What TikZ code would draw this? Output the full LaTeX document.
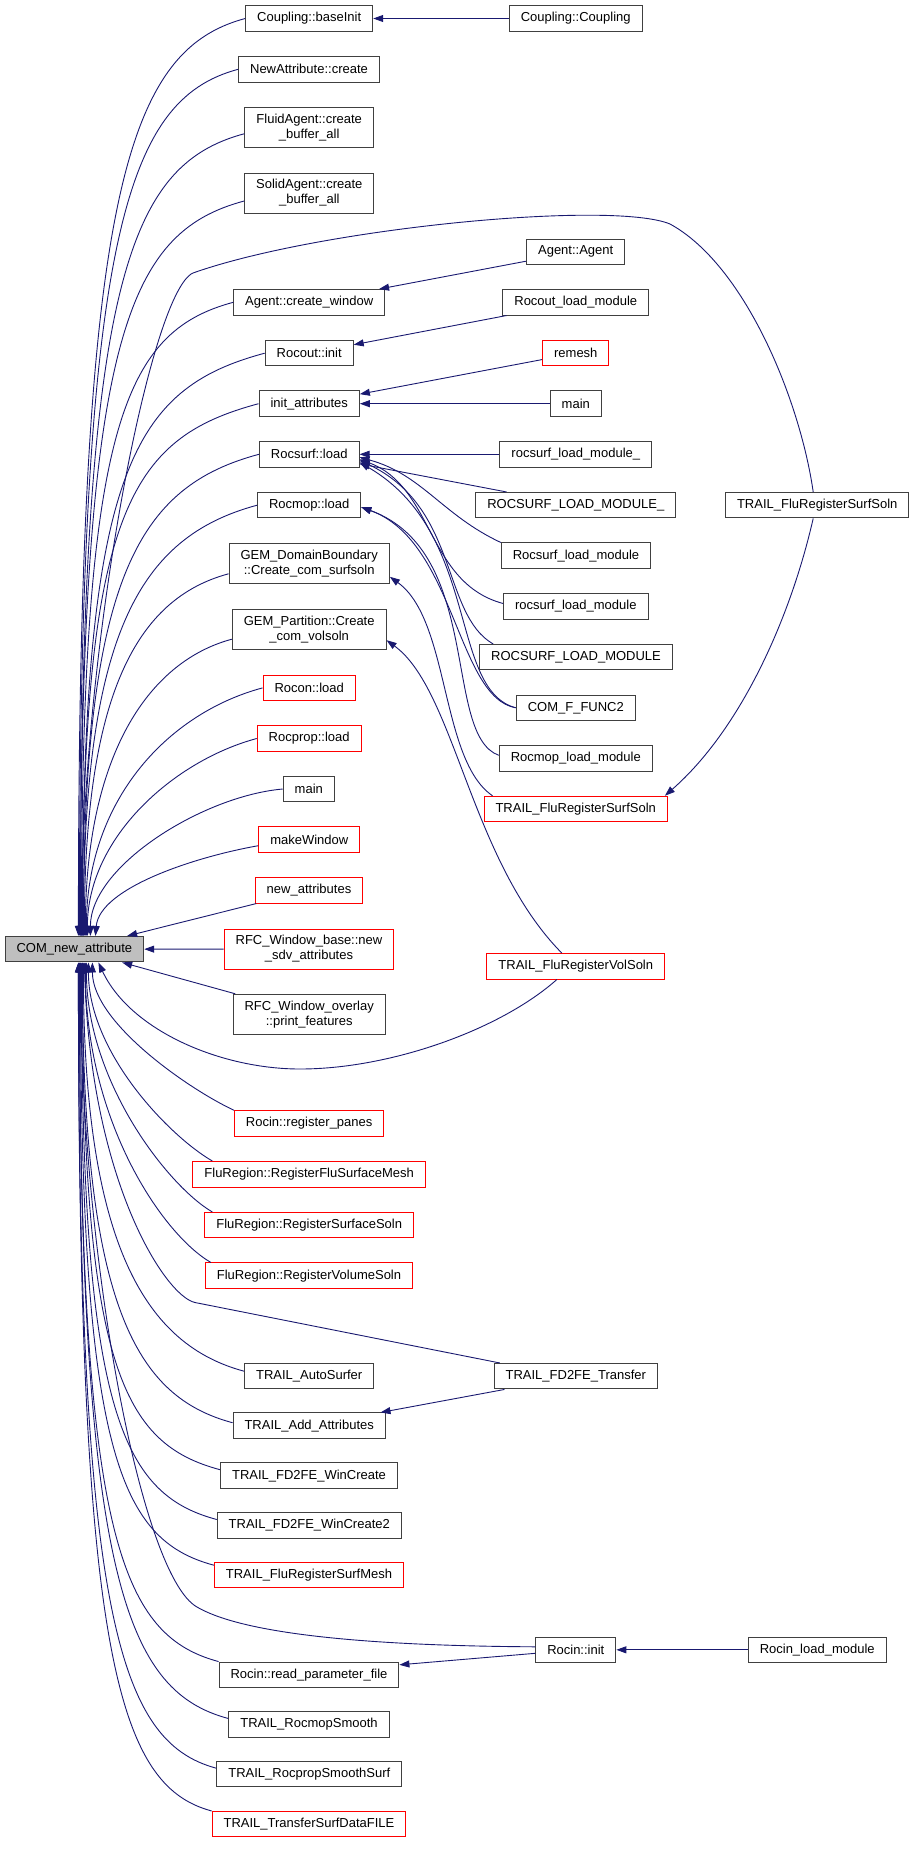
\documentclass[tikz,border=0pt]{standalone}
\usepackage{fontspec}
\setmainfont{Liberation Sans}
\usetikzlibrary{arrows.meta}
\definecolor{dxblue}{RGB}{25,25,112}
\definecolor{dxgray}{RGB}{64,64,64}
\definecolor{dxred}{RGB}{255,0,0}
\definecolor{dxfill}{RGB}{191,191,191}

\begin{document}
\begin{tikzpicture}[
  x=1pt, y=1pt,
  font=\fontsize{13}{15}\selectfont, >={Triangle[length=10pt, width=7pt]},
  fn/.style     ={rectangle, draw=dxgray, line width=1pt, fill=white, inner xsep=11.5pt, inner ysep=2pt, minimum height=25.5pt, align=center},
  fnred/.style  ={fn, draw=dxred},
  focus/.style  ={fn, fill=dxfill},
  twoline/.style={minimum height=40pt},
  edge/.style   ={->, dxblue, line width=0.9pt},
]
\useasboundingbox (0,0) rectangle (915,-1852);

% ---- the function itself
\node[focus] (com) at (74.4,-949.2) {COM\_new\_attribute};

% ---- direct callers, first column
\node[fn]           (baseinit)      at (309.2,-18.5)   {Coupling::baseInit};
\node[fn]           (newattr)       at (309,-69.3)     {NewAttribute::create};
\node[fn, twoline]  (fluidagent)    at (309.2,-127.7)  {FluidAgent::create\\\_buffer\_all};
\node[fn, twoline]  (solidagent)    at (309.3,-193)    {SolidAgent::create\\\_buffer\_all};
\node[fn]           (agentcw)       at (309.2,-302.3)  {Agent::create\_window};
\node[fn]           (rocoutinit)    at (309.2,-353.2)  {Rocout::init};
\node[fn]           (initattr)      at (309.2,-403.7)  {init\_attributes};
\node[fn]           (rocsurfload)   at (309.2,-454.3)  {Rocsurf::load};
\node[fn]           (rocmopload)    at (309.2,-505.2)  {Rocmop::load};
\node[fn, twoline]  (gemdb)         at (309.2,-563.8)  {GEM\_DomainBoundary\\::Create\_com\_surfsoln};
\node[fn, twoline]  (gempart)       at (309.2,-629.2)  {GEM\_Partition::Create\\\_com\_volsoln};
\node[fnred]        (roconload)     at (309.2,-687.9)  {Rocon::load};
\node[fnred]        (rocpropload)   at (309.2,-738.5)  {Rocprop::load};
\node[fn]           (mainone)       at (308.8,-789)    {main};
\node[fnred]        (makewin)       at (309.3,-839.7)  {makeWindow};
\node[fnred]        (newattrs)      at (309,-890.3)    {new\_attributes};
\node[fnred, twoline] (rfcbase)     at (309,-949)      {RFC\_Window\_base::new\\\_sdv\_attributes};
\node[fn, twoline]  (rfcoverlay)    at (309.2,-1014.3) {RFC\_Window\_overlay\\::print\_features};
\node[fnred]        (registerpanes) at (309.2,-1123.5) {Rocin::register\_panes};
\node[fnred]        (flusurfmesh)   at (309.2,-1174.3) {FluRegion::RegisterFluSurfaceMesh};
\node[fnred]        (flusurfsoln)   at (309.2,-1225.2) {FluRegion::RegisterSurfaceSoln};
\node[fnred]        (fluvolsoln)    at (309,-1275.7)   {FluRegion::RegisterVolumeSoln};
\node[fn]           (autosurfer)    at (309.2,-1376.2) {TRAIL\_AutoSurfer};
\node[fn]           (addattr)       at (309.2,-1425.7) {TRAIL\_Add\_Attributes};
\node[fn]           (wincreate)     at (309,-1475.7)   {TRAIL\_FD2FE\_WinCreate};
\node[fn]           (wincreatetwo)  at (309.3,-1525.5) {TRAIL\_FD2FE\_WinCreate2};
\node[fnred]        (surfmesh)      at (309,-1575.2)   {TRAIL\_FluRegisterSurfMesh};
\node[fn]           (readparam)     at (309,-1674.8)   {Rocin::read\_parameter\_file};
\node[fn]           (rocmopsmooth)  at (309,-1724.5)   {TRAIL\_RocmopSmooth};
\node[fn]           (rocpropsmooth) at (309.3,-1774.2) {TRAIL\_RocpropSmoothSurf};
\node[fnred]        (transfersurf)  at (309,-1824.2)   {TRAIL\_TransferSurfDataFILE};

% ---- second column
\node[fn]    (coupling)     at (575.7,-18.5)   {Coupling::Coupling};
\node[fn]    (agent)        at (575.7,-251.8)  {Agent::Agent};
\node[fn]    (rocoutlm)     at (575.8,-302.3)  {Rocout\_load\_module};
\node[fnred] (remesh)       at (575.8,-353.2)  {remesh};
\node[fn]    (maintwo)      at (575.8,-403.7)  {main};
\node[fn]    (rsla)         at (575.8,-454.3)  {rocsurf\_load\_module\_};
\node[fn]    (rslb)         at (575.8,-505.2)  {ROCSURF\_LOAD\_MODULE\_};
\node[fn]    (rslc)         at (576,-555.7)    {Rocsurf\_load\_module};
\node[fn]    (rsld)         at (575.8,-606.5)  {rocsurf\_load\_module};
\node[fn]    (rsle)         at (576,-657.2)    {ROCSURF\_LOAD\_MODULE};
\node[fn]    (comffunc)     at (575.8,-707.8)  {COM\_F\_FUNC2};
\node[fn]    (rocmoplm)     at (575.8,-758.3)  {Rocmop\_load\_module};
\node[fnred] (trailsurfred) at (575.7,-809)    {TRAIL\_FluRegisterSurfSoln};
\node[fnred] (trailvol)     at (575.8,-966.3)  {TRAIL\_FluRegisterVolSoln};
\node[fn]    (fdfe)         at (575.8,-1376.2) {TRAIL\_FD2FE\_Transfer};
\node[fn]    (rocininit)    at (575.8,-1649.8) {Rocin::init};

% ---- third column
\node[fn] (trailsurf) at (817.2,-505.2)  {TRAIL\_FluRegisterSurfSoln};
\node[fn] (rocinlm)   at (817.2,-1649.8) {Rocin\_load\_module};

% ---- calls into COM_new_attribute from above
\draw[edge] (baseinit.west) to[out=195, in=90, out distance=126pt, in distance=734pt] ([xshift=4pt]com.north);
\draw[edge] (newattr.west) to[out=195, in=90, out distance=119pt, in distance=694pt] ([xshift=5pt]com.north);
\draw[edge] ([yshift=-6pt]fluidagent.west) to[out=195, in=90, out distance=124pt, in distance=647pt] ([xshift=6pt]com.north);
\draw[edge] ([yshift=-8pt]solidagent.west) to[out=195, in=90, out distance=123pt, in distance=595pt] ([xshift=6pt]com.north);
\draw[edge] (agentcw.west) to[out=195, in=90, out distance=115pt, in distance=507pt] ([xshift=7pt]com.north);
\draw[edge] (rocoutinit.west) to[out=195, in=90, out distance=137pt, in distance=466pt] ([xshift=8pt]com.north);
\draw[edge] (initattr.west) to[out=195, in=90, out distance=133pt, in distance=426pt] ([xshift=8pt]com.north);
\draw[edge] (rocsurfload.west) to[out=195, in=90, out distance=123pt, in distance=362pt] ([xshift=9pt]com.north);
\draw[edge] (rocmopload.west) to[out=195, in=90, out distance=122pt, in distance=302pt] ([xshift=9pt]com.north);
\draw[edge] ([yshift=-10pt]gemdb.west) to[out=195, in=90, out distance=95pt, in distance=242pt] ([xshift=10pt]com.north);
\draw[edge] ([yshift=-10pt]gempart.west) to[out=195, in=90, out distance=88pt, in distance=178pt] ([xshift=11pt]com.north);
\draw[edge] (roconload.west) to[out=195, in=90, out distance=97pt, in distance=137pt] ([xshift=12pt]com.north);
\draw[edge] (rocpropload.west) to[out=195, in=90, out distance=85pt, in distance=99pt] ([xshift=13pt]com.north);
\draw[edge] (mainone.west) to[out=185, in=90, out distance=80pt, in distance=70pt] ([xshift=16pt]com.north);
\draw[edge] ([yshift=-6pt]makewin.west) to[out=190, in=85, out distance=65pt, in distance=48pt] ([xshift=21pt]com.north);
\draw[edge] (newattrs) -- (com);
\draw[edge] (rfcbase) -- (com);
\draw[edge] (rfcoverlay) -- (com);

% ---- calls into COM_new_attribute from below
\draw[edge] (registerpanes.north west) to[out=155, in=-90, out distance=50pt, in distance=60pt] ([xshift=18pt]com.south);
\draw[edge] ([xshift=20pt]flusurfmesh.north west) to[out=150, in=-90, out distance=50pt, in distance=90pt] ([xshift=14pt]com.south);
\draw[edge] ([xshift=8pt]flusurfsoln.north west) to[out=150, in=-90, out distance=50pt, in distance=120pt] ([xshift=12pt]com.south);
\draw[edge] ([xshift=6pt]fluvolsoln.north west) to[out=150, in=-90, out distance=55pt, in distance=160pt] ([xshift=11pt]com.south);
\draw[edge] ([yshift=5pt]autosurfer.west) to[out=165, in=-90, out distance=100pt, in distance=286pt] ([xshift=9pt]com.south);
\draw[edge] ([yshift=3pt]addattr.west) to[out=165, in=-90, out distance=100pt, in distance=344pt] ([xshift=8pt]com.south);
\draw[edge] ([yshift=6pt]wincreate.west) to[out=165, in=-90, out distance=100pt, in distance=406pt] ([xshift=8pt]com.south);
\draw[edge] ([yshift=6pt]wincreatetwo.west) to[out=165, in=-90, out distance=100pt, in distance=446pt] ([xshift=7pt]com.south);
\draw[edge] ([yshift=10pt]surfmesh.west) to[out=165, in=-90, out distance=100pt, in distance=486pt] ([xshift=6pt]com.south);
\draw[edge] (readparam.north west) to[out=165, in=-90, out distance=105pt, in distance=566pt] ([xshift=5pt]com.south);
\draw[edge] ([yshift=6pt]rocmopsmooth.west) to[out=165, in=-90, out distance=110pt, in distance=606pt] ([xshift=5pt]com.south);
\draw[edge] ([yshift=6pt]rocpropsmooth.west) to[out=165, in=-90, out distance=104pt, in distance=645pt] ([xshift=4pt]com.south);
\draw[edge] (transfersurf.north west) to[out=165, in=-90, out distance=100pt, in distance=685pt] ([xshift=4pt]com.south);

% ---- long detours into COM_new_attribute
\draw[edge] ([xshift=-4pt]trailsurf.north) .. controls (800,-400) and (745,-265) .. (670,-224) .. controls (612,-200) and (320,-228) .. (193,-273) .. controls (150,-292) and (81,-650) .. ([xshift=7pt]com.north);
\draw[edge] ([xshift=-19pt]trailvol.south) .. controls (500,-1030) and (390,-1069) .. (300,-1069) .. controls (220,-1069) and (130,-1030) .. ([xshift=24pt]com.south);
\draw[edge] ([xshift=-76pt]fdfe.north) -- (195,-1302.5) .. controls (165,-1296) and (90,-1180) .. ([xshift=10pt]com.south);
\draw[edge] ([yshift=3pt]rocininit.west) .. controls (400,-1646) and (250,-1638) .. (197,-1607) .. controls (140,-1575) and (80,-1250) .. ([xshift=6pt]com.south);

% ---- second level calls
\draw[edge] (coupling) -- (baseinit);
\draw[edge] (agent) -- (agentcw);
\draw[edge] (rocoutlm) -- (rocoutinit);
\draw[edge] (remesh) -- (initattr);
\draw[edge] (maintwo) -- (initattr);
\draw[edge] (rsla) -- (rocsurfload);
\draw[edge] (rslb) -- (rocsurfload);
\draw[edge] (rslc.north west) to[out=155, in=-15] ([yshift=-3pt]rocsurfload.east);
\draw[edge] ([yshift=3pt]rsld.west) to[out=165, in=-20] ([yshift=-5pt]rocsurfload.east);
\draw[edge] ([xshift=14pt]rsle.north west) to[out=150, in=-25, out distance=60pt, in distance=110pt] ([yshift=-6pt]rocsurfload.east);
\draw[edge] (comffunc.west) to[out=165, in=-30, out distance=70pt, in distance=140pt] ([yshift=-8pt]rocsurfload.east);
\draw[edge] (comffunc.west) to[out=170, in=-20, out distance=60pt, in distance=100pt] ([yshift=-2pt]rocmopload.east);
\draw[edge] ([yshift=3pt]rocmoplm.west) to[out=160, in=-20, out distance=60pt, in distance=130pt] ([yshift=-2pt]rocmopload.east);
\draw[edge] ([xshift=9pt]trailsurfred.north west) .. controls (440,-760) and (450,-620) .. ([yshift=-13pt]gemdb.east);
\draw[edge] ([xshift=-14pt]trailvol.north) .. controls (470,-860) and (455,-690) .. ([yshift=-11pt]gempart.east);
\draw[edge] ([xshift=-4pt]trailsurf.south) .. controls (790,-620) and (740,-730) .. ([xshift=-3pt]trailsurfred.north east);
\draw[edge] (fdfe) -- (addattr);
\draw[edge] ([yshift=-3.5pt]rocininit.west) -- ([yshift=10pt]readparam.east);
\draw[edge] (rocinlm) -- (rocininit);

\end{tikzpicture}
\end{document}
